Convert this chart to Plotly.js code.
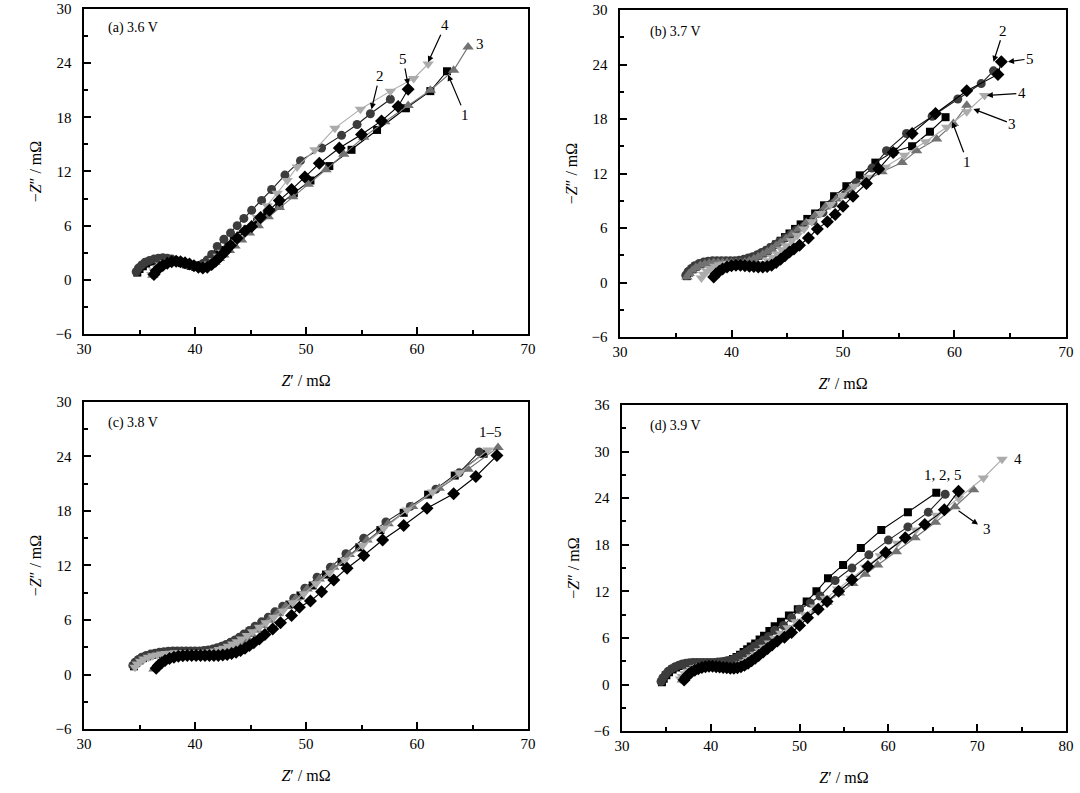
<!DOCTYPE html>
<html>
<head>
<meta charset="utf-8">
<script src="https://cdn.plot.ly/plotly-3.0.1.min.js"></script>
<style>
  body { margin: 0; background: #fff; }
  #graph { width: 1080px; height: 793px; }
</style>
</head>
<body>
<div id="graph"></div>
<script>
// Nyquist plots, cycles 1-5 at four voltages. Values in mOhm.

// (a) 3.6 V
const a1x = [34.8,35.0,35.3,35.6,36.0,36.4,36.8,37.2,37.6,38.0,38.4,38.8,39.2,39.6,40.0,40.4,40.8,41.2,41.6,42.0,42.5,43.0,43.5,44.1,44.8,45.6,46.5,47.6,48.9,50.4,52.1,54.1,56.4,59.0,61.2,62.7];
const a1y = [0.8,1.2,1.5,1.8,2.0,2.15,2.25,2.3,2.25,2.15,2.0,1.85,1.7,1.55,1.45,1.45,1.65,2.0,2.4,2.8,3.3,3.8,4.3,4.9,5.6,6.4,7.3,8.4,9.6,11.0,12.6,14.4,16.6,19.0,20.9,23.1];
const a2x = [34.7,34.9,35.2,35.5,35.9,36.3,36.7,37.1,37.5,37.9,38.3,38.7,39.1,39.5,39.9,40.3,40.7,41.1,41.5,42.0,42.6,43.2,43.8,44.4,45.1,46.0,46.9,48.1,49.5,51.4,53.2,54.6,55.8,57.6];
const a2y = [0.9,1.3,1.65,1.95,2.15,2.3,2.4,2.45,2.4,2.3,2.15,2.0,1.85,1.7,1.6,1.6,1.8,2.2,2.8,3.7,4.5,5.2,6.0,6.8,7.7,8.8,10.0,11.6,13.2,14.6,16.0,17.2,18.4,20.0];
const a3x = [36.2,36.4,36.7,37.0,37.4,37.8,38.2,38.6,39.0,39.4,39.8,40.2,40.6,41.0,41.4,41.8,42.2,42.6,43.1,43.6,44.2,44.9,45.7,46.6,47.6,48.8,50.2,51.8,53.4,55.2,57.1,59.2,61.2,63.3,64.6];
const a3y = [0.5,0.9,1.25,1.55,1.8,1.95,2.0,1.95,1.85,1.7,1.55,1.4,1.3,1.35,1.6,1.95,2.35,2.75,3.25,3.75,4.4,5.2,6.0,7.0,8.0,9.2,10.6,12.2,13.9,15.8,17.5,19.3,21.0,23.2,25.8];
const a4x = [36.1,36.3,36.6,36.9,37.3,37.7,38.1,38.5,38.9,39.3,39.7,40.1,40.5,40.9,41.3,41.7,42.1,42.5,43.0,43.5,44.1,44.8,45.6,46.5,47.4,48.3,49.2,50.8,52.6,54.9,57.6,59.7,61.0];
const a4y = [0.6,1.0,1.35,1.65,1.9,2.05,2.1,2.05,1.95,1.8,1.6,1.45,1.35,1.45,1.75,2.15,2.6,3.05,3.6,4.2,4.9,5.8,6.9,8.2,9.6,11.0,12.5,14.4,16.8,18.9,20.9,22.3,23.9];
const a5x = [36.3,36.5,36.8,37.1,37.5,37.9,38.3,38.7,39.1,39.5,39.9,40.3,40.7,41.1,41.5,41.9,42.3,42.7,43.2,43.8,44.5,45.1,45.9,46.7,47.6,48.7,49.9,51.2,53.0,55.0,56.8,58.3,59.2];
const a5y = [0.6,1.0,1.35,1.6,1.85,2.0,2.05,2.0,1.9,1.75,1.55,1.4,1.3,1.4,1.7,2.1,2.6,3.1,3.8,4.6,5.4,5.9,6.9,7.7,8.8,10.0,11.4,12.9,14.6,16.1,17.6,19.2,21.1];

// (b) 3.7 V
const b1x = [36.0,36.2,36.5,36.8,37.2,37.6,38.0,38.4,38.8,39.2,39.6,40.0,40.4,40.8,41.2,41.6,42.0,42.4,42.8,43.2,43.6,44.0,44.4,44.8,45.2,45.7,46.2,46.8,47.5,48.3,49.2,50.3,51.5,52.9,54.5,56.2,57.8,59.2];
const b1y = [0.7,1.1,1.45,1.75,2.0,2.15,2.25,2.3,2.3,2.3,2.3,2.3,2.3,2.35,2.45,2.6,2.75,2.95,3.2,3.5,3.85,4.2,4.6,5.0,5.4,5.9,6.4,7.0,7.6,8.5,9.5,10.6,11.8,13.2,14.4,15.0,16.6,18.2];
const b2x = [35.9,36.1,36.4,36.7,37.1,37.5,37.9,38.3,38.7,39.1,39.5,39.9,40.3,40.7,41.1,41.5,41.9,42.3,42.7,43.1,43.5,43.9,44.3,44.8,45.3,45.8,46.5,47.3,48.2,49.1,50.2,51.2,52.6,53.9,55.7,58.0,60.3,62.4,63.5];
const b2y = [0.8,1.2,1.55,1.85,2.1,2.25,2.35,2.4,2.4,2.4,2.4,2.4,2.4,2.45,2.55,2.7,2.85,3.05,3.3,3.55,3.85,4.15,4.5,4.9,5.3,5.75,6.2,6.8,7.7,8.7,9.7,11.0,12.6,14.5,16.4,18.3,20.2,21.9,23.3];
const b3x = [36.0,36.2,36.5,36.8,37.2,37.6,38.0,38.4,38.8,39.2,39.6,40.0,40.4,40.8,41.2,41.6,42.0,42.4,42.8,43.2,43.6,44.0,44.4,44.9,45.4,46.0,46.7,47.5,48.4,49.4,50.6,52.0,53.5,55.3,56.6,58.4,59.9,61.1];
const b3y = [0.6,1.0,1.35,1.65,1.9,2.05,2.15,2.2,2.2,2.2,2.2,2.2,2.2,2.2,2.25,2.4,2.6,2.85,3.1,3.4,3.7,4.05,4.4,4.85,5.3,5.9,6.6,7.4,8.3,9.2,10.2,11.2,12.2,13.2,14.5,15.8,17.5,19.5];
const b4x = [37.3,37.5,37.8,38.1,38.5,38.9,39.3,39.7,40.1,40.5,40.9,41.3,41.7,42.1,42.5,42.9,43.3,43.7,44.1,44.5,44.9,45.4,45.9,46.5,47.2,48.0,48.9,49.9,51.0,52.3,53.8,55.5,57.4,59.3,61.1,62.7];
const b4y = [0.5,0.9,1.25,1.55,1.8,1.95,2.05,2.1,2.1,2.05,2.0,1.95,1.9,1.9,1.95,2.1,2.4,2.75,3.15,3.6,4.05,4.6,5.2,5.9,6.7,7.6,8.6,9.6,10.6,11.6,12.7,14.0,15.5,17.1,18.8,20.6];
const b5x = [38.4,38.6,38.9,39.2,39.6,40.0,40.4,40.8,41.2,41.6,42.0,42.4,42.8,43.2,43.6,44.0,44.4,44.8,45.2,45.6,46.1,46.9,47.7,48.6,49.3,50.0,50.9,52.1,53.2,54.5,56.2,58.3,61.1,63.9,64.2];
const b5y = [0.6,0.95,1.25,1.5,1.7,1.85,1.9,1.9,1.85,1.8,1.75,1.7,1.7,1.75,1.9,2.2,2.55,2.95,3.35,3.7,4.1,4.9,5.9,6.7,7.5,8.4,9.5,10.9,12.5,14.3,16.4,18.6,21.1,22.9,24.3];

// (c) 3.8 V
const c1x = [34.5,34.7,35.0,35.3,35.7,36.1,36.5,36.9,37.3,37.7,38.1,38.5,38.9,39.3,39.7,40.1,40.5,40.9,41.3,41.7,42.1,42.5,42.9,43.3,43.7,44.1,44.5,45.0,45.5,46.1,46.8,47.6,48.5,49.5,50.6,51.8,53.2,54.8,56.7,58.8,61.0,63.4,66.0];
const c1y = [0.9,1.25,1.55,1.8,2.0,2.15,2.25,2.35,2.4,2.45,2.5,2.5,2.5,2.5,2.5,2.5,2.5,2.55,2.6,2.7,2.85,3.0,3.2,3.45,3.7,4.0,4.3,4.7,5.1,5.6,6.2,6.9,7.7,8.7,9.8,11.0,12.4,14.0,15.9,17.8,19.8,21.9,24.3];
const c2x = [34.4,34.6,34.9,35.2,35.6,36.0,36.4,36.8,37.2,37.6,38.0,38.4,38.8,39.2,39.6,40.0,40.4,40.8,41.2,41.6,42.0,42.4,42.8,43.2,43.6,44.0,44.4,44.9,45.4,46.0,46.6,47.2,47.9,48.9,49.9,51.0,52.2,53.6,55.2,57.2,59.4,61.7,63.8,65.6];
const c2y = [1.0,1.35,1.65,1.9,2.1,2.25,2.35,2.45,2.5,2.55,2.6,2.6,2.6,2.6,2.6,2.6,2.6,2.65,2.7,2.8,2.95,3.1,3.3,3.55,3.8,4.1,4.45,4.85,5.3,5.8,6.3,6.9,7.5,8.4,9.5,10.7,11.8,13.3,15.0,16.8,18.5,20.4,22.2,24.5];
const c3x = [36.3,36.5,36.8,37.1,37.5,37.9,38.3,38.7,39.1,39.5,39.9,40.3,40.7,41.1,41.5,41.9,42.3,42.7,43.1,43.5,43.9,44.3,44.7,45.1,45.6,46.1,46.7,47.4,48.2,49.1,50.1,51.2,52.5,53.9,55.5,57.4,59.6,62.0,64.6,67.3];
const c3y = [0.6,0.95,1.3,1.6,1.85,2.0,2.1,2.15,2.2,2.2,2.2,2.2,2.2,2.2,2.25,2.3,2.4,2.55,2.75,3.0,3.3,3.65,4.0,4.4,4.9,5.4,6.0,6.7,7.5,8.4,9.4,10.5,11.8,13.2,14.8,16.6,18.5,20.5,22.6,25.0];
const c4x = [34.6,34.8,35.1,35.4,35.8,36.2,36.6,37.0,37.4,37.8,38.2,38.6,39.0,39.4,39.8,40.2,40.6,41.0,41.4,41.8,42.2,42.6,43.0,43.4,43.8,44.2,44.7,45.2,45.8,46.4,47.1,47.9,48.8,49.8,50.9,52.1,53.5,55.1,57.0,59.1,61.4,63.8,66.4];
const c4y = [0.8,1.15,1.45,1.7,1.9,2.05,2.15,2.25,2.3,2.35,2.4,2.4,2.4,2.4,2.4,2.4,2.4,2.45,2.5,2.6,2.75,2.9,3.1,3.35,3.6,3.9,4.3,4.7,5.2,5.7,6.3,7.0,7.9,8.9,10.0,11.2,12.6,14.2,16.1,18.1,20.1,22.2,24.7];
const c5x = [36.5,36.7,37.0,37.3,37.7,38.1,38.5,38.9,39.3,39.7,40.1,40.5,40.9,41.3,41.7,42.1,42.5,42.9,43.3,43.7,44.1,44.5,44.9,45.3,45.8,46.3,47.0,47.7,48.7,49.4,50.4,51.4,52.5,53.7,55.2,56.9,58.8,60.9,63.3,65.3,67.2];
const c5y = [0.7,1.0,1.3,1.55,1.75,1.9,2.0,2.05,2.1,2.1,2.1,2.1,2.1,2.1,2.1,2.1,2.15,2.2,2.3,2.45,2.65,2.9,3.2,3.5,3.9,4.4,5.0,5.7,6.5,7.4,8.1,9.1,10.4,11.7,13.1,14.8,16.4,18.3,19.9,21.8,24.1];

// (d) 3.9 V
const d1x = [34.5,34.7,35.0,35.3,35.7,36.1,36.5,36.9,37.3,37.7,38.1,38.5,38.9,39.3,39.7,40.1,40.5,40.9,41.3,41.7,42.1,42.5,42.9,43.3,43.7,44.1,44.5,45.0,45.5,46.0,46.6,47.2,47.9,48.8,49.8,50.8,51.9,53.2,54.9,56.9,59.2,62.2,65.4];
const d1y = [0.3,0.75,1.2,1.6,1.95,2.2,2.4,2.55,2.65,2.7,2.75,2.75,2.75,2.75,2.75,2.75,2.75,2.8,2.85,2.95,3.1,3.3,3.55,3.85,4.2,4.55,4.9,5.3,5.8,6.3,6.9,7.5,8.1,8.9,9.7,10.7,12.0,13.7,15.4,17.6,19.9,22.2,24.7];
const d2x = [34.4,34.6,34.9,35.2,35.6,36.0,36.4,36.8,37.2,37.6,38.0,38.4,38.8,39.2,39.6,40.0,40.4,40.8,41.2,41.6,42.0,42.4,42.8,43.2,43.6,44.0,44.4,44.9,45.4,45.9,46.5,47.2,48.2,49.1,50.0,51.2,52.3,54.0,55.9,57.8,60.0,62.2,64.5,66.4];
const d2y = [0.4,0.85,1.3,1.7,2.05,2.3,2.5,2.65,2.75,2.8,2.85,2.85,2.85,2.85,2.85,2.85,2.85,2.9,2.95,3.0,3.05,3.2,3.4,3.65,3.9,4.2,4.5,4.9,5.3,5.7,6.2,7.0,7.6,8.6,9.7,10.5,11.4,13.4,15.0,16.7,18.6,20.3,22.2,24.5];
const d3x = [36.8,37.0,37.3,37.6,38.0,38.4,38.8,39.2,39.6,40.0,40.4,40.8,41.2,41.6,42.0,42.4,42.8,43.2,43.6,44.0,44.4,44.8,45.2,45.7,46.2,46.8,47.4,48.1,48.9,49.8,50.8,51.9,53.1,54.5,56.0,57.4,58.8,60.9,63.0,65.3,67.5,69.6];
const d3y = [0.6,0.95,1.3,1.6,1.85,2.05,2.2,2.3,2.35,2.35,2.35,2.3,2.25,2.2,2.15,2.15,2.2,2.35,2.55,2.8,3.1,3.45,3.8,4.25,4.7,5.2,5.8,6.4,7.1,7.9,8.7,9.6,10.6,11.8,13.0,14.2,15.4,17.1,18.9,20.9,22.9,25.1];
const d4x = [36.6,36.8,37.1,37.4,37.8,38.2,38.6,39.0,39.4,39.8,40.2,40.6,41.0,41.4,41.8,42.2,42.6,43.0,43.4,43.8,44.2,44.6,45.0,45.5,46.0,46.6,47.2,47.9,48.7,49.6,50.6,51.7,52.9,54.3,55.8,57.4,59.1,61.0,63.1,65.4,67.9,70.7,72.8];
const d4y = [0.7,1.05,1.4,1.7,1.95,2.15,2.3,2.4,2.45,2.45,2.45,2.4,2.35,2.3,2.25,2.25,2.3,2.45,2.65,2.9,3.2,3.55,3.9,4.35,4.8,5.35,5.95,6.6,7.3,8.1,9.0,10.0,11.1,12.3,13.7,15.1,16.6,18.2,19.9,21.8,24.0,26.6,29.0];
const d5x = [37.0,37.2,37.5,37.8,38.2,38.6,39.0,39.4,39.8,40.2,40.6,41.0,41.4,41.8,42.2,42.6,43.0,43.4,43.8,44.2,44.6,45.0,45.4,45.9,46.4,46.9,47.5,48.3,49.1,50.0,50.9,52.1,53.1,54.4,55.9,57.7,59.7,61.9,64.1,66.3,67.9];
const d5y = [0.6,0.95,1.3,1.6,1.85,2.05,2.2,2.3,2.35,2.35,2.3,2.25,2.2,2.15,2.1,2.1,2.15,2.3,2.5,2.75,3.05,3.4,3.75,4.2,4.65,5.1,5.6,6.1,6.7,7.6,8.6,9.7,10.7,12.0,13.5,15.2,17.0,18.9,20.6,22.5,24.9];

// marker style per cycle 1..5
const symbols = ['square', 'circle', 'triangle-up', 'triangle-down', 'diamond'];
const sizes = [8, 9, 10, 10, 10];
const colors = ['#000000', '#3c3c3c', '#727272', '#ababab', '#000000'];
const lineColors = ['#000000', '#1e1e1e', '#727272', '#ababab', '#000000'];

const panels = [
    {xa: 'x', ya: 'y', series: [[a1x, a1y], [a2x, a2y], [a3x, a3y], [a4x, a4y], [a5x, a5y]]},
    {xa: 'x2', ya: 'y2', series: [[b1x, b1y], [b2x, b2y], [b3x, b3y], [b4x, b4y], [b5x, b5y]]},
    {xa: 'x3', ya: 'y3', series: [[c1x, c1y], [c2x, c2y], [c3x, c3y], [c4x, c4y], [c5x, c5y]]},
    {xa: 'x4', ya: 'y4', series: [[d1x, d1y], [d2x, d2y], [d3x, d3y], [d4x, d4y], [d5x, d5y]]}
];

var data = [];
panels.forEach(function(p) {
    p.series.forEach(function(s, i) {
        data.push({
            x: s[0], y: s[1],
            type: 'scatter', mode: 'lines+markers',
            xaxis: p.xa, yaxis: p.ya,
            showlegend: false,
            line: {color: lineColors[i], width: 1.1},
            marker: {symbol: symbols[i], size: sizes[i], color: colors[i], line: {width: 0}}
        });
    });
});

const serif = 'Liberation Serif, DejaVu Serif, serif';

function xAxis(range, domain, anchor) {
    return {
        domain: domain, anchor: anchor, range: range, dtick: 10,
        showline: true, linewidth: 2, linecolor: '#000', mirror: true,
        ticks: 'inside', ticklen: 7, tickwidth: 2, tickcolor: '#000',
        minor: {dtick: 5, ticks: 'inside', ticklen: 4, tickwidth: 2, tickcolor: '#000'},
        showgrid: false, zeroline: false, ticklabeloverflow: 'allow',
        tickfont: {family: serif, size: 15, color: '#000'},
        title: {text: '<i>Z</i>′ / mΩ', font: {family: serif, size: 16, color: '#000'}, standoff: 19}
    };
}

function yAxis(range, domain, anchor) {
    return {
        domain: domain, anchor: anchor, range: range, dtick: 6,
        showline: true, linewidth: 2, linecolor: '#000', mirror: true,
        ticks: 'inside', ticklen: 7, tickwidth: 2, tickcolor: '#000',
        minor: {dtick: 3, ticks: 'inside', ticklen: 4, tickwidth: 2, tickcolor: '#000'},
        showgrid: false, zeroline: false, ticklabeloverflow: 'allow',
        ticksuffix: '\u00a0\u00a0',
        tickfont: {family: serif, size: 15, color: '#000'},
        title: {text: '−<i>Z</i>″ / mΩ', font: {family: serif, size: 16, color: '#000'}, standoff: 10}
    };
}

const labelFont = {family: serif, size: 15, color: '#000'};

function num(xr, yr, x, y, text, ax, ay) {
    return {xref: xr, yref: yr, x: x, y: y, text: text, showarrow: true,
            ax: ax, ay: ay, arrowhead: 2, arrowsize: 1, arrowwidth: 1.2,
            arrowcolor: '#000', font: labelFont};
}
function tag(xr, yr, x, y, text) {
    return {xref: xr, yref: yr, x: x, y: y, text: text, showarrow: false, font: labelFont};
}
function panelTitle(xr, yr, x, y, text) {
    return {xref: xr + ' domain', yref: yr + ' domain', x: x, y: y, text: text,
            showarrow: false, xanchor: 'left', yanchor: 'middle',
            font: {family: serif, size: 14, color: '#000'}};
}

const annotations = [
    panelTitle('x', 'y', 0.05, 0.94, '(a) 3.6 V'),
    panelTitle('x2', 'y2', 0.063, 0.933, '(b) 3.7 V'),
    panelTitle('x3', 'y3', 0.05, 0.936, '(c) 3.8 V'),
    panelTitle('x4', 'y4', 0.059, 0.936, '(d) 3.9 V'),

    num('x', 'y', 61.0, 24.1, '4', 17, -37),
    num('x', 'y', 59.2, 21.6, '5', -5, -26),
    num('x', 'y', 55.9, 18.9, '2', 8, -33),
    num('x', 'y', 62.8, 22.7, '1', 17, 40),
    tag('x', 'y', 65.7, 26.1, '3'),

    num('x2', 'y2', 63.5, 24.3, '2', 10, -31),
    num('x2', 'y2', 64.8, 24.3, '5', 22, -3),
    num('x2', 'y2', 62.9, 20.6, '4', 35, -2),
    num('x2', 'y2', 61.7, 19.1, '3', 39, 15),
    num('x2', 'y2', 59.8, 17.7, '1', 15, 40),

    tag('x3', 'y3', 66.6, 26.7, '1–5'),

    tag('x4', 'y4', 66.1, 27.0, '1, 2, 5'),
    tag('x4', 'y4', 74.6, 29.0, '4'),
    num('x4', 'y4', 70.1, 20.6, '', -21, -15),
    tag('x4', 'y4', 71.1, 20.0, '3')
];

const layout = {
    width: 1080, height: 793,
    paper_bgcolor: '#fff', plot_bgcolor: '#fff',
    margin: {l: 0, r: 0, t: 0, b: 0},
    showlegend: false,
    xaxis: xAxis([30, 70], [0.0778, 0.4889], 'y'),
    yaxis: yAxis([-6, 30], [0.5788, 0.9887], 'x'),
    xaxis2: xAxis([30, 70], [0.5741, 0.9870], 'y2'),
    yaxis2: yAxis([-6, 30], [0.5750, 0.9874], 'x2'),
    xaxis3: xAxis([30, 70], [0.0778, 0.4889], 'y3'),
    yaxis3: yAxis([-6, 30], [0.0807, 0.4931], 'x3'),
    xaxis4: xAxis([30, 80], [0.5759, 0.9870], 'y4'),
    yaxis4: yAxis([-6, 36], [0.0780, 0.4893], 'x4'),
    annotations: annotations
};

Plotly.newPlot('graph', data, layout, {staticPlot: true});
</script>
</body>
</html>
